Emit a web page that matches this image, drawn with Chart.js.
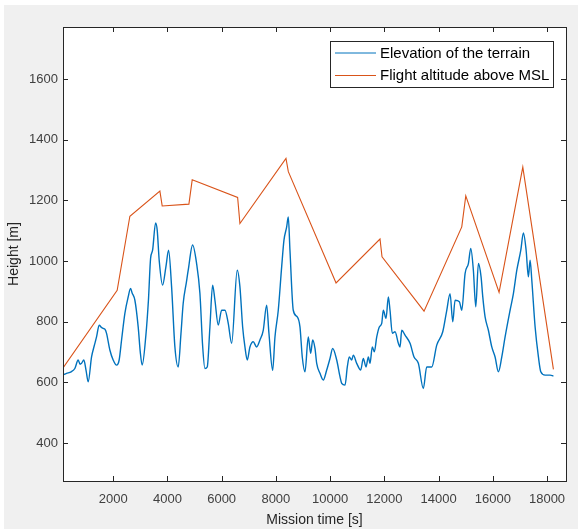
<!DOCTYPE html>
<html>
<head>
<meta charset="utf-8">
<script src="https://cdn.jsdelivr.net/npm/chart.js@4/dist/chart.umd.min.js"></script>
<style>
  html, body { margin: 0; padding: 0; background: #ffffff; }
  canvas { display: block; }
</style>
</head>
<body>
<canvas id="chart" width="587" height="529"></canvas>
<script>
// Terrain elevation along the flight path [s] -> [m]
const terrainTime = [
  150, 280, 450, 587, 710, 780, 834, 919, 1000, 1079, 1203, 1300, 1387, 1484, 1560, 1631,
  1700, 1756, 1878, 2000, 2125, 2221, 2310, 2432, 2554, 2642, 2700, 2801, 2923, 3000, 3070,
  3207, 3300, 3380, 3454, 3565, 3624, 3700, 3823, 3945, 4044, 4155, 4277, 4399, 4500, 4583,
  4700, 4768, 4930, 5077, 5199, 5300, 5384, 5469, 5568, 5668, 5753, 5875, 6000, 6122, 6244,
  6369, 6576, 6675, 6775, 6860, 6945, 7044, 7166, 7291, 7413, 7535, 7660, 7745, 7882, 7967,
  8089, 8214, 8299, 8399, 8458, 8520, 8642, 8790, 8889, 8974, 9074, 9196, 9284, 9358, 9443,
  9506, 9627, 9749, 9875, 9996, 10096, 10244, 10365, 10428, 10550, 10635, 10708, 10797, 10856,
  10981, 11129, 11225, 11325, 11410, 11472, 11557, 11631, 11720, 11815, 11904, 11963, 12063,
  12148, 12210, 12295, 12395, 12517, 12579, 12642, 12764, 12948, 13096,
  13255, 13439, 13563, 13749, 13933, 14155, 14303, 14424, 14524, 14609, 14768, 14856,
  14978, 15100, 15188, 15284, 15373, 15469, 15568, 15631, 15716, 15838, 15963, 16085, 16207,
  16332, 16454, 16638, 16760, 16886, 17033, 17129, 17229, 17313, 17376, 17439, 17561, 17683,
  17771, 17930, 18114, 18236
];
const terrainHeight = [
  625, 630, 635, 646, 674, 660, 663, 674, 640, 602, 684, 720, 750, 789, 782, 778,
  775, 762, 707, 674, 657, 674, 740, 828, 882, 910, 895, 871, 783, 700, 657,
  756, 870, 1009, 1036, 1126, 1102, 1000, 921, 981, 1036, 915, 717, 651, 760, 861,
  930, 970, 1053, 992, 894, 720, 646, 651, 783, 921, 871, 789, 838, 838, 795,
  729, 970, 915, 783, 717, 674, 717, 734, 717, 740, 772, 855, 762, 640, 750,
  838, 981, 1069, 1113, 1146, 1036, 838, 816, 783, 684, 635, 750, 696, 740, 712,
  663, 630, 608, 641, 679, 712, 674, 619, 597, 591, 651, 684, 674, 690,
  663, 641, 679, 651, 684, 663, 717, 701, 750, 783, 795, 838, 811,
  882, 838, 762, 767, 729, 717, 772, 756, 729, 684,
  663, 580, 651, 651, 723, 767, 838, 893, 800, 871, 866, 838,
  959, 992, 1042, 970, 849, 992, 948, 882, 816, 772, 717, 684, 635,
  684, 750, 838, 893, 970, 1036, 1093, 1036, 948, 1003, 937, 783, 684,
  635, 624, 624, 621
];

// Planned flight altitude above mean sea level [s] -> [m]
const flightTime = [
  150, 2148, 2616, 3723, 3808, 4793, 4915, 6590, 6675, 8373, 8460, 10220,
  11841, 11915, 13465, 14856, 15004, 16232, 17107, 18236
];
const flightAltitude = [
  648, 904, 1148, 1231, 1182, 1188, 1268, 1210, 1124, 1339, 1295, 928,
  1073, 1014, 835, 1113, 1215, 897, 1310, 643
];

const xTicks = [2000, 4000, 6000, 8000, 10000, 12000, 14000, 16000, 18000];
const yTicks = [400, 600, 800, 1000, 1200, 1400, 1600];

const seriesNames = ['Elevation of the terrain', 'Flight altitude above MSL'];
const seriesColors = ['#0072BD', '#D95319'];

const FONT = "'Liberation Sans', Arial, Helvetica, sans-serif";
const AXIS_INK = '#262626';

const toPoints = (xs, ys) => xs.map((x, i) => ({ x, y: ys[i] }));

// Figure background, white axes box, box outline with inward tick marks
const axesBox = {
  id: 'axesBox',
  beforeDraw(chart) {
    const { ctx, chartArea: a } = chart;
    ctx.save();
    ctx.fillStyle = '#ffffff';
    ctx.fillRect(0, 0, chart.width, chart.height);
    ctx.fillStyle = '#f0f0f0';
    ctx.fillRect(4, 5, chart.width - 13, chart.height - 5);
    ctx.fillStyle = '#ffffff';
    ctx.fillRect(a.left, a.top, a.right - a.left, a.bottom - a.top);
    ctx.restore();
  },
  afterDatasetsDraw(chart) {
    const { ctx, chartArea: a, scales } = chart;
    const len = 5;
    ctx.save();
    ctx.strokeStyle = AXIS_INK;
    ctx.lineWidth = 1;
    ctx.beginPath();
    scales.x.ticks.forEach(t => {
      const px = Math.round(scales.x.getPixelForValue(t.value)) + 0.5;
      ctx.moveTo(px, a.bottom); ctx.lineTo(px, a.bottom - len);
      ctx.moveTo(px, a.top); ctx.lineTo(px, a.top + len);
    });
    scales.y.ticks.forEach(t => {
      const py = Math.round(scales.y.getPixelForValue(t.value)) + 0.5;
      ctx.moveTo(a.left, py); ctx.lineTo(a.left + len, py);
      ctx.moveTo(a.right, py); ctx.lineTo(a.right - len, py);
    });
    ctx.stroke();
    ctx.strokeRect(Math.round(a.left) + 0.5, Math.round(a.top) + 0.5,
                   Math.round(a.right - a.left), Math.round(a.bottom - a.top));
    ctx.restore();
  }
};

// Boxed legend in the upper right corner of the axes
const boxedLegend = {
  id: 'boxedLegend',
  afterDraw(chart) {
    const { ctx, chartArea: a } = chart;
    const ds = chart.data.datasets;
    ctx.save();
    ctx.font = `15px ${FONT}`;
    const textW = Math.max(...ds.map(d => ctx.measureText(d.label).width));
    const lineX0 = 4.5, lineLen = 41, textGap = 4;
    const w = Math.round(lineX0 + lineLen + textGap + textW + 4);
    const h = 46;
    const x0 = Math.round(a.right - 13 - w) + 0.5;
    const y0 = Math.round(a.top + 14) + 0.5;
    ctx.fillStyle = '#ffffff';
    ctx.fillRect(x0, y0, w, h);
    ctx.strokeStyle = AXIS_INK;
    ctx.lineWidth = 1;
    ctx.strokeRect(x0, y0, w, h);
    ds.forEach((d, i) => {
      const cy = y0 + 11.5 + i * 22.5;
      ctx.strokeStyle = d.borderColor;
      ctx.lineWidth = 1;
      ctx.beginPath();
      ctx.moveTo(x0 + lineX0, cy);
      ctx.lineTo(x0 + lineX0 + lineLen, cy);
      ctx.stroke();
      ctx.fillStyle = '#000000';
      ctx.textBaseline = 'middle';
      ctx.textAlign = 'left';
      ctx.fillText(d.label, x0 + lineX0 + lineLen + textGap, cy + 0.5);
    });
    ctx.restore();
  }
};

new Chart(document.getElementById('chart'), {
  type: 'line',
  data: {
    datasets: [
      {
        label: seriesNames[0],
        data: toPoints(terrainTime, terrainHeight),
        borderColor: seriesColors[0],
        borderWidth: 1.4,
        pointRadius: 0,
        cubicInterpolationMode: 'monotone',
        fill: false
      },
      {
        label: seriesNames[1],
        data: toPoints(flightTime, flightAltitude),
        borderColor: seriesColors[1],
        borderWidth: 1.1,
        pointRadius: 0,
        tension: 0,
        fill: false
      }
    ]
  },
  options: {
    responsive: false,
    animation: false,
    devicePixelRatio: 1,
    layout: { padding: { left: 0, top: 27, right: 21, bottom: 0 } },
    plugins: {
      legend: { display: false },
      tooltip: { enabled: false }
    },
    scales: {
      x: {
        type: 'linear',
        min: 150,
        max: 18700,
        grid: { display: false, drawTicks: false },
        border: { display: false },
        afterBuildTicks: s => { s.ticks = xTicks.map(v => ({ value: v })); },
        afterFit: s => { s.height = 48; },
        ticks: {
          padding: 11,
          maxRotation: 0,
          autoSkip: false,
          color: '#404040',
          font: { family: FONT, size: 13 },
          callback: v => String(v)
        },
        title: {
          display: true,
          text: 'Mission time [s]',
          color: AXIS_INK,
          font: { family: FONT, size: 14 },
          padding: { top: 0, bottom: 0 }
        }
      },
      y: {
        type: 'linear',
        min: 275,
        max: 1772,
        grid: { display: false, drawTicks: false },
        border: { display: false },
        afterBuildTicks: s => { s.ticks = yTicks.map(v => ({ value: v })); },
        afterFit: s => { s.width = 63; },
        ticks: {
          padding: 5,
          autoSkip: false,
          color: '#404040',
          font: { family: FONT, size: 13 },
          callback: v => String(v)
        },
        title: {
          display: true,
          text: 'Height [m]',
          color: AXIS_INK,
          font: { family: FONT, size: 14 },
          padding: { top: 6, bottom: 0 }
        }
      }
    }
  },
  plugins: [axesBox, boxedLegend]
});
</script>
</body>
</html>
